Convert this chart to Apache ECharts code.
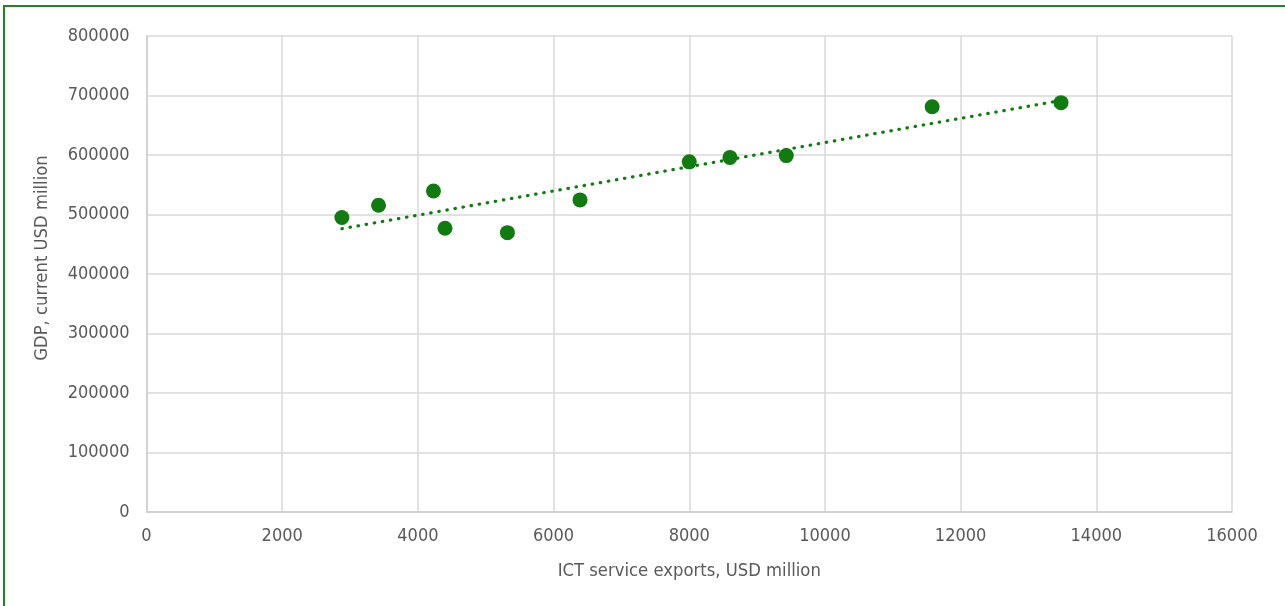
<!DOCTYPE html>
<html>
<head>
<meta charset="utf-8">
<title>GDP vs ICT service exports</title>
<script src="https://cdn.jsdelivr.net/npm/echarts@6/dist/echarts.min.js"></script>
<style>
  html, body { margin: 0; padding: 0; background: #ffffff; }
  #chart { width: 1285px; height: 606px; }
</style>
</head>
<body>
<div id="chart"></div>
<script>
// ICT service exports (USD million) for each observation
const ictExports = [2880, 3420, 4230, 4400, 5320, 6390, 8000, 8600, 9430, 11580, 13480];
// GDP, current USD million, for the same observations
const gdpValues = [495000, 515500, 539500, 477000, 469500, 524500, 588500, 596000, 599000, 681000, 688000];

// Axis tick labels
const xTicks = [0, 2000, 4000, 6000, 8000, 10000, 12000, 14000, 16000];
const yTicks = [0, 100000, 200000, 300000, 400000, 500000, 600000, 700000, 800000];

const points = ictExports.map((x, i) => [x, gdpValues[i]]);

// Linear least-squares trendline over the observed range
function linearTrend(xs, ys) {
  const n = xs.length;
  const mx = xs.reduce((a, b) => a + b, 0) / n;
  const my = ys.reduce((a, b) => a + b, 0) / n;
  let sxy = 0, sxx = 0;
  for (let i = 0; i < n; i++) {
    sxy += (xs[i] - mx) * (ys[i] - my);
    sxx += (xs[i] - mx) * (xs[i] - mx);
  }
  const slope = sxy / sxx;
  const icpt = my - slope * mx;
  const x0 = Math.min(...xs), x1 = Math.max(...xs);
  return [[x0, icpt + slope * x0], [x1, icpt + slope * x1]];
}
const trend = linearTrend(ictExports, gdpValues);

const FONT = '"DejaVu Sans Condensed", "DejaVu Sans", sans-serif';
const TEXT = '#595959';
const GREEN = '#117a11';
const plain = v => String(v);

const chart = echarts.init(document.getElementById('chart'), null, { renderer: 'canvas' });
chart.setOption({
  animation: false,
  backgroundColor: '#ffffff',
  grid: { left: 146.5, right: 53, top: 36, bottom: 94, containLabel: false },
  xAxis: {
    type: 'value',
    min: xTicks[0],
    max: xTicks[xTicks.length - 1],
    interval: xTicks[1] - xTicks[0],
    name: 'ICT service exports, USD million',
    nameLocation: 'middle',
    nameGap: 50,
    nameTextStyle: { color: TEXT, fontFamily: FONT, fontSize: 18.3 },
    axisLine: { show: true, lineStyle: { color: '#cccccc', width: 1.5 } },
    axisTick: { show: false },
    axisLabel: { color: TEXT, fontFamily: FONT, fontSize: 18, margin: 15, formatter: plain },
    splitLine: { show: true, lineStyle: { color: '#d9d9d9', width: 1.5 } }
  },
  yAxis: {
    type: 'value',
    min: yTicks[0],
    max: yTicks[yTicks.length - 1],
    interval: yTicks[1] - yTicks[0],
    axisLine: { show: true, lineStyle: { color: '#cccccc', width: 1.5 } },
    axisTick: { show: false },
    axisLabel: { color: TEXT, fontFamily: FONT, fontSize: 18, margin: 17, formatter: plain },
    splitLine: { show: true, lineStyle: { color: '#d9d9d9', width: 1.5 } }
  },
  graphic: [
    {
      type: 'rect',
      silent: true,
      shape: { x: 4, y: 6, width: 1400, height: 700 },
      style: { fill: 'none', stroke: '#1f861f', lineWidth: 2 }
    },
    {
      type: 'text',
      silent: true,
      x: 42,
      y: 258,
      rotation: Math.PI / 2,
      style: {
        text: 'GDP, current USD million',
        fill: TEXT,
        font: '18.3px ' + FONT,
        align: 'center',
        verticalAlign: 'middle'
      }
    }
  ],
  series: [
    {
      name: 'GDP',
      type: 'scatter',
      data: points,
      symbol: 'circle',
      symbolSize: 15,
      itemStyle: { color: GREEN, opacity: 1 },
      z: 3
    },
    {
      name: 'Linear trend',
      type: 'line',
      data: trend,
      symbol: 'none',
      lineStyle: { color: GREEN, width: 3.2, type: [0.5, 7.7], cap: 'round' },
      z: 4
    }
  ]
});
</script>
</body>
</html>
